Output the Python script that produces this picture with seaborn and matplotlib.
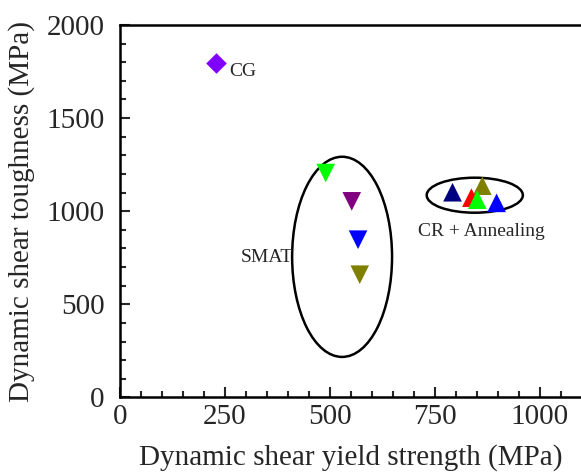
import matplotlib
matplotlib.use("Agg")
import matplotlib.pyplot as plt
from matplotlib.patches import Ellipse
from matplotlib.ticker import MultipleLocator
import seaborn as sns
import pandas as pd

# Data
cg_x = [229]
cg_y = [1797]
cg_colors = ["#8000ff"]

smat_x = [490, 552, 567, 571]
smat_y = [1205, 1053, 847, 659]
smat_colors = ["#00ff00", "#800080", "#0000ff", "#808000"]

cr_x = [792, 863, 837, 851, 897]
cr_y = [1102, 1137, 1073, 1062, 1045]
cr_colors = ["#000080", "#808000", "#ff0000", "#00ff00", "#0000ff"]

labels = ["CG", "SMAT", "CR + Annealing"]
x_ticks = [0, 250, 500, 750, 1000]
y_ticks = [0, 500, 1000, 1500, 2000]

sns.set_style("ticks")
plt.rcParams["font.family"] = ["Liberation Serif", "DejaVu Serif"]

fig = plt.figure(figsize=(5.81, 4.72), dpi=100)
ax = fig.add_axes([0.2065, 0.158, 0.7935, 0.789])

def draw(xs, ys, cols, marker, size):
    df = pd.DataFrame({"x": xs, "y": ys, "c": [str(i) for i in range(len(xs))]})
    sns.scatterplot(data=df, x="x", y="y", hue="c", palette=cols, marker=marker,
                    s=size, linewidth=0, ax=ax, legend=False, zorder=3)

draw(cg_x, cg_y, cg_colors, "D", 110)
draw(smat_x, smat_y, smat_colors, "v", 180)
draw(cr_x, cr_y, cr_colors, "^", 180)

# Ellipses
ax.add_patch(Ellipse((529, 755), 238, 1075, fill=False, lw=1.8, ec="black", zorder=2))
ax.add_patch(Ellipse((845, 1086), 229, 188, fill=False, lw=1.8, ec="black", zorder=2))

ax.text(260, 1750, labels[0], fontsize=14, va="center", ha="left")
ax.text(412, 750, labels[1], fontsize=14, va="center", ha="right")
ax.text(710, 889, labels[2], fontsize=14, va="center", ha="left")

ax.set_xlim(0, 1098)
ax.set_ylim(0, 2000)
ax.set_xticks(x_ticks)
ax.set_yticks(y_ticks)
ax.xaxis.set_minor_locator(MultipleLocator(50))
ax.yaxis.set_minor_locator(MultipleLocator(100))
ax.tick_params(which="major", direction="in", length=7, width=1.5, labelsize=21)
ax.tick_params(axis="x", which="major", pad=5)
ax.tick_params(axis="y", which="major", pad=11)
ax.tick_params(which="minor", direction="in", length=4, width=1.5)
ax.set_xlabel("Dynamic shear yield strength (MPa)", fontsize=21, labelpad=10)
ax.set_ylabel("Dynamic shear toughness (MPa)", fontsize=21, labelpad=8)

for s in ["left", "bottom", "top"]:
    ax.spines[s].set_linewidth(1.8)
    ax.spines[s].set_color("black")
ax.spines["right"].set_visible(False)

fig.savefig("out.png", dpi=100)
